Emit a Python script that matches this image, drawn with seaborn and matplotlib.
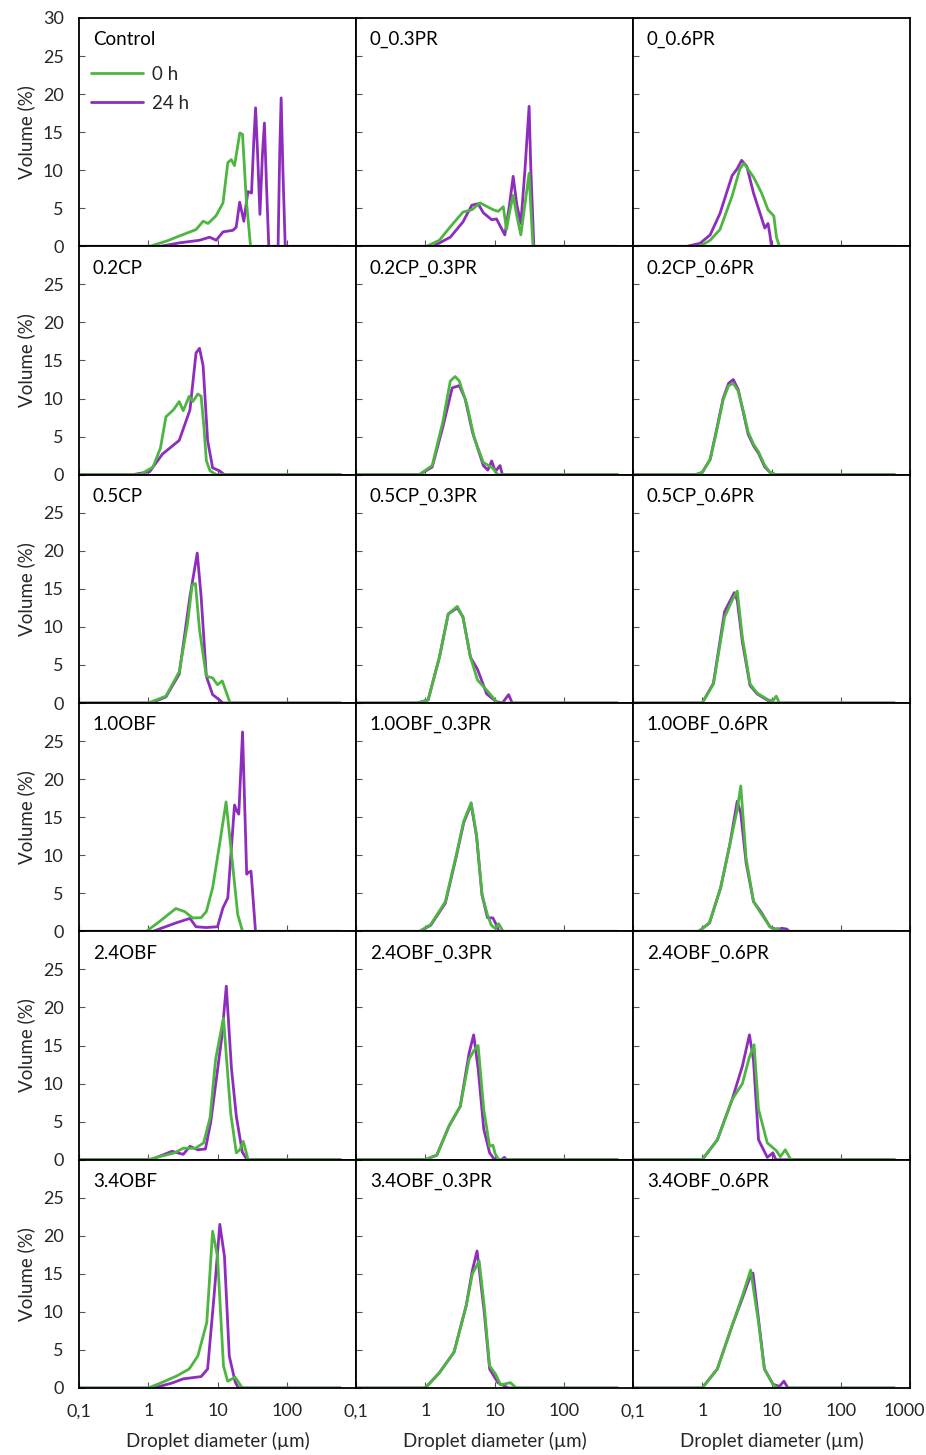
import matplotlib
matplotlib.use("Agg")
import matplotlib.pyplot as plt
import seaborn as sns
from matplotlib.ticker import FixedLocator, NullLocator, FixedFormatter
from matplotlib.transforms import ScaledTranslation

sns.set_theme(style="white")
plt.rcParams['font.family'] = ['Lato', 'DejaVu Sans']

GREEN = '#4DB640'
PURPLE = '#8E2CBE'

# ---------------- data (diameter in um, volume in %) ----------------
control_x0 = [0.1, 1.05, 1.85, 2.8, 4.9, 6.2, 7.3, 9.5, 12, 14.1, 15.8, 17.6, 21, 23, 26, 30, 600]
control_y0 = [0, 0, 0.7, 1.35, 2.2, 3.3, 3.0, 4.0, 5.7, 11, 11.4, 10.6, 14.9, 14.7, 6.2, 0, 0]
control_x24 = [0.1, 1.5, 2.8, 5.5, 7.7, 9.6, 12, 16.6, 18.6, 20.9, 24, 27.5, 31, 33.5, 35.5, 38, 41, 44.5, 47.6, 51, 55, 75, 79, 83, 88, 95, 600]
control_y24 = [0, 0, 0.45, 0.8, 1.2, 0.8, 1.9, 2.1, 2.5, 5.8, 3.3, 7.2, 7.0, 14, 18.2, 12, 4.2, 12, 16.2, 8, 0, 0, 12, 19.5, 10, 0, 0]

pr03_x0 = [0.1, 1.05, 1.6, 2.27, 3.5, 4.7, 6.2, 9.6, 11.3, 13.4, 14.9, 16.5, 18.6, 21, 24, 27.5, 31.6, 33.5, 36, 600]
pr03_y0 = [0, 0, 0.8, 2.5, 4.5, 4.8, 5.7, 4.8, 4.6, 5.2, 2.2, 4.5, 6.7, 4, 1.5, 5.5, 9.6, 5, 0, 0]
pr03_x24 = [0.1, 1.3, 2.3, 3.5, 4.7, 5.8, 6.9, 9.1, 10.7, 14.1, 16.5, 18.6, 21, 24, 27.5, 31.6, 33.5, 37, 600]
pr03_y24 = [0, 0, 1.2, 3.2, 5.4, 5.6, 4.4, 3.5, 3.6, 1.5, 5.5, 9.2, 5.5, 3.0, 10, 18.4, 10, 0, 0]

pr06_x0 = [0.1, 0.93, 1.3, 1.8, 2.7, 3.5, 4.0, 5.5, 7.2, 8.9, 10.8, 11.8, 13, 600]
pr06_y0 = [0, 0, 0.8, 2.2, 6.6, 10.2, 10.9, 9.1, 7.0, 4.8, 4.0, 1.2, 0, 0]
pr06_x24 = [0.1, 0.6, 0.93, 1.3, 1.8, 2.7, 3.2, 3.7, 4.4, 5.5, 6.8, 8.0, 8.9, 9.5, 10, 600]
pr06_y24 = [0, 0, 0.4, 1.5, 4.3, 9.3, 10.2, 11.3, 10.5, 7.0, 4.4, 2.4, 3.0, 1.5, 0, 0]

cp02_x0 = [0.1, 0.76, 1.17, 1.5, 1.8, 2.3, 2.8, 3.2, 3.9, 4.4, 5.2, 5.8, 6.4, 6.9, 7.8, 9.6, 600]
cp02_y0 = [0, 0, 1.0, 3.5, 7.6, 8.5, 9.6, 8.4, 10.3, 9.6, 10.6, 10.3, 6, 1.85, 0.5, 0, 0]
cp02_x24 = [0.1, 0.6, 1.05, 1.6, 2.8, 4.0, 4.9, 5.5, 6.2, 7.2, 8.5, 10.7, 12.6, 600]
cp02_y24 = [0, 0, 0.4, 2.7, 4.5, 8.5, 16, 16.6, 14.3, 4.5, 0.9, 0.5, 0, 0]

cp02pr03_x0 = [0.1, 0.82, 1.26, 1.8, 2.3, 2.7, 3.1, 4.0, 5.1, 6.9, 9.3, 11.2, 600]
cp02pr03_y0 = [0, 0, 1.2, 7.0, 12.3, 12.9, 12.3, 9.2, 4.8, 1.6, 0.9, 0, 0]
cp02pr03_x24 = [0.1, 0.82, 1.26, 1.8, 2.45, 3.1, 3.76, 4.8, 5.76, 6.9, 8.0, 9.1, 10.3, 12, 13, 600]
cp02pr03_y24 = [0, 0, 1.0, 6.3, 11.4, 11.7, 10, 5.6, 3.4, 1.2, 0.6, 1.8, 0.4, 1.2, 0, 0]

cp02pr06_x0 = [0.1, 0.8, 1.0, 1.3, 1.6, 2.0, 2.4, 2.8, 3.3, 4.0, 4.6, 5.5, 6.5, 8, 9.5, 11.5, 600]
cp02pr06_y0 = [0, 0, 0.3, 2.0, 5.6, 9.8, 11.7, 12.0, 11, 8, 5.6, 4.0, 3.0, 1.2, 0.3, 0, 0]
cp02pr06_x24 = [0.1, 0.8, 1.0, 1.3, 1.6, 2.0, 2.4, 2.8, 3.3, 4.0, 4.6, 5.5, 6.5, 8, 9.5, 11.5, 600]
cp02pr06_y24 = [0, 0, 0.3, 2.0, 5.8, 10, 12, 12.5, 11.2, 7.8, 5.3, 3.8, 2.8, 1.0, 0.3, 0, 0]

cp05_x0 = [0.1, 1.0, 1.8, 2.8, 3.7, 4.3, 4.8, 5.5, 6.9, 8.5, 10, 11.7, 13.3, 15.2, 600]
cp05_y0 = [0, 0, 0.9, 4.1, 10.5, 15.5, 15.7, 9.6, 3.5, 3.3, 2.4, 2.9, 1.5, 0, 0]
cp05_x24 = [0.1, 1.1, 1.8, 2.8, 4.0, 5.1, 5.8, 6.9, 8.5, 10.7, 12, 600]
cp05_y24 = [0, 0, 0.8, 3.8, 14, 19.7, 14, 3.5, 1.1, 0.4, 0, 0]

cp05pr03_x0 = [0.1, 0.77, 1.1, 1.6, 2.15, 2.9, 3.5, 4.5, 5.7, 7.7, 11.1, 600]
cp05pr03_y0 = [0, 0, 0.4, 6.0, 11.7, 12.7, 11.3, 6.0, 3.0, 1.7, 0, 0]
cp05pr03_x24 = [0.1, 0.77, 1.1, 1.6, 2.15, 2.9, 3.5, 4.5, 5.7, 7.7, 10.5, 13, 16, 18, 600]
cp05pr03_y24 = [0, 0, 0.4, 6.0, 11.7, 12.5, 11.3, 6.0, 4.4, 1.2, 0.2, 0, 1.1, 0, 0]

cp05pr06_x0 = [0.1, 1.0, 1.45, 2.1, 2.8, 3.2, 3.8, 4.9, 6.2, 9, 10.5, 11.7, 13, 600]
cp05pr06_y0 = [0, 0, 2.5, 11.3, 13.8, 14.7, 8.6, 2.5, 1.3, 0.4, 0.3, 0.9, 0, 0]
cp05pr06_x24 = [0.1, 1.0, 1.45, 2.1, 2.9, 3.2, 3.8, 4.9, 6.2, 9, 10, 600]
cp05pr06_y24 = [0, 0, 2.6, 12, 14.5, 13.5, 8, 2.3, 1.2, 0.3, 0, 0]

obf10_x0 = [0.1, 0.94, 1.46, 2.5, 3.35, 4.4, 5.8, 6.9, 8.5, 10.7, 13.3, 15.8, 19.6, 23, 600]
obf10_y0 = [0, 0, 1.3, 3.0, 2.6, 1.75, 1.8, 2.6, 5.7, 11.4, 17, 10.5, 2.2, 0, 0]
obf10_x24 = [0.1, 1.17, 2.5, 4.0, 4.9, 6.9, 10, 12, 14.1, 16, 17.6, 19, 20.3, 23, 26.4, 28.5, 30.5, 35.4, 600]
obf10_y24 = [0, 0, 1.1, 1.7, 0.6, 0.5, 0.6, 3.1, 4.4, 11.4, 16.6, 15.8, 15.4, 26.2, 7.5, 7.8, 7.9, 0, 0]

obf10pr03_x0 = [0.1, 0.83, 1.2, 1.95, 2.8, 3.6, 4.6, 5.5, 6.6, 7.9, 9.0, 10.2, 11.5, 13.3, 600]
obf10pr03_y0 = [0, 0, 0.9, 3.9, 10, 14.5, 16.9, 12.7, 4.8, 2.2, 0.8, 0.4, 1.0, 0, 0]
obf10pr03_x24 = [0.1, 0.83, 1.2, 1.95, 2.8, 3.6, 4.6, 5.5, 6.6, 7.9, 9.5, 10.7, 11.5, 600]
obf10pr03_y24 = [0, 0, 0.8, 3.7, 9.8, 14.3, 16.7, 12.5, 4.8, 1.8, 1.75, 0.8, 0, 0]

obf10pr06_x0 = [0.1, 0.89, 1.27, 1.84, 2.5, 3.2, 3.6, 4.3, 5.5, 7.0, 9.5, 11, 12.2, 13.5, 600]
obf10pr06_y0 = [0, 0, 1.1, 5.7, 11.4, 16, 19.1, 9.6, 3.9, 2.4, 0.6, 0.2, 0.4, 0, 0]
obf10pr06_x24 = [0.1, 0.89, 1.27, 1.84, 2.5, 3.2, 3.6, 4.3, 5.5, 7.0, 9.5, 12, 14, 16.6, 18, 600]
obf10pr06_y24 = [0, 0, 1.1, 5.7, 11.4, 17.1, 15.5, 9.0, 3.9, 2.6, 0.6, 0.2, 0.4, 0.3, 0, 0]

obf24_x0 = [0.1, 1.0, 1.47, 2.4, 3.2, 4.8, 6.3, 7.8, 9.4, 12.2, 15.5, 18.7, 21, 23.6, 27.6, 600]
obf24_y0 = [0, 0, 0.4, 0.9, 1.5, 1.5, 2.2, 5.5, 13.2, 18.6, 6.1, 0.9, 1.3, 2.4, 0, 0]
obf24_x24 = [0.1, 1.1, 2.2, 3.2, 4.0, 5.2, 6.7, 8.0, 11.5, 13.4, 15.9, 18.7, 22.8, 26.7, 600]
obf24_y24 = [0, 0, 1.1, 0.7, 1.75, 1.3, 1.4, 5.0, 16, 22.8, 12, 5.7, 1, 0, 0]

obf24pr03_x0 = [0.1, 1.0, 1.47, 2.2, 3.2, 4.3, 5.0, 5.8, 7.0, 8.5, 9.5, 10.2, 11.5, 600]
obf24pr03_y0 = [0, 0, 0.6, 4.4, 7.0, 13.2, 14.3, 15.0, 6.6, 1.75, 1.9, 0.8, 0, 0]
obf24pr03_x24 = [0.1, 1.0, 1.47, 2.2, 3.2, 4.3, 5.0, 5.8, 7.0, 8.5, 10.0, 12.5, 13.9, 15, 600]
obf24pr03_y24 = [0, 0, 0.6, 4.4, 7.0, 14, 16.4, 12, 4, 0.9, 0, 0, 0.3, 0, 0]

obf24pr06_x0 = [0.1, 1.0, 1.65, 2.7, 3.8, 4.8, 5.6, 6.5, 8.7, 11.7, 13.4, 15.8, 19, 600]
obf24pr06_y0 = [0, 0, 2.6, 7.9, 10, 13.5, 15.1, 6.6, 2.2, 1.2, 0.4, 1.3, 0, 0]
obf24pr06_x24 = [0.1, 1.0, 1.65, 2.7, 3.8, 4.8, 5.5, 6.5, 8.7, 10.5, 11.5, 600]
obf24pr06_y24 = [0, 0, 2.6, 7.9, 12.3, 16.4, 13, 2.6, 0.3, 0.9, 0, 0]

obf34_x0 = [0.1, 1.0, 1.6, 2.6, 3.9, 5.2, 7.0, 8.5, 10, 12.2, 14, 18, 22.8, 600]
obf34_y0 = [0, 0, 0.75, 1.6, 2.5, 4.2, 8.6, 20.6, 17.3, 2.9, 0.9, 1.4, 0, 0]
obf34_x24 = [0.1, 1.2, 2.2, 3.2, 5.8, 7.2, 8.9, 10.8, 12.6, 14.8, 18, 20, 600]
obf34_y24 = [0, 0, 0.65, 1.2, 1.5, 2.5, 12, 21.5, 17.3, 4.2, 0.8, 0, 0]

obf34pr03_x0 = [0.1, 1.0, 1.6, 2.6, 3.9, 4.8, 6.0, 7.1, 8.5, 10.4, 12.2, 17, 20.6, 600]
obf34pr03_y0 = [0, 0, 2, 4.7, 10.8, 15, 16.7, 10.8, 2.9, 1.8, 0.4, 0.7, 0, 0]
obf34pr03_x24 = [0.1, 1.0, 1.6, 2.6, 3.9, 4.8, 5.6, 7.1, 8.5, 11.2, 13.6, 15.8, 600]
obf34pr03_y24 = [0, 0, 2, 4.7, 10.8, 15.5, 18, 10, 2.5, 0.7, 0.3, 0, 0]

obf34pr06_x0 = [0.1, 1.0, 1.65, 2.7, 3.8, 5.0, 6.5, 7.9, 10.5, 12, 600]
obf34pr06_y0 = [0, 0, 2.5, 8.2, 12.1, 15.5, 8.6, 2.5, 0.5, 0, 0]
obf34pr06_x24 = [0.1, 1.0, 1.65, 2.7, 3.8, 5.0, 5.4, 6.5, 7.9, 10.5, 13, 15.1, 17.3, 600]
obf34pr06_y24 = [0, 0, 2.5, 8.2, 11.8, 14.8, 15.1, 9.0, 2.5, 0.5, 0.2, 0.9, 0, 0]

titles = ["Control", "0_0.3PR", "0_0.6PR",
          "0.2CP", "0.2CP_0.3PR", "0.2CP_0.6PR",
          "0.5CP", "0.5CP_0.3PR", "0.5CP_0.6PR",
          "1.0OBF", "1.0OBF_0.3PR", "1.0OBF_0.6PR",
          "2.4OBF", "2.4OBF_0.3PR", "2.4OBF_0.6PR",
          "3.4OBF", "3.4OBF_0.3PR", "3.4OBF_0.6PR"]

series = [
    (control_x0, control_y0, control_x24, control_y24),
    (pr03_x0, pr03_y0, pr03_x24, pr03_y24),
    (pr06_x0, pr06_y0, pr06_x24, pr06_y24),
    (cp02_x0, cp02_y0, cp02_x24, cp02_y24),
    (cp02pr03_x0, cp02pr03_y0, cp02pr03_x24, cp02pr03_y24),
    (cp02pr06_x0, cp02pr06_y0, cp02pr06_x24, cp02pr06_y24),
    (cp05_x0, cp05_y0, cp05_x24, cp05_y24),
    (cp05pr03_x0, cp05pr03_y0, cp05pr03_x24, cp05pr03_y24),
    (cp05pr06_x0, cp05pr06_y0, cp05pr06_x24, cp05pr06_y24),
    (obf10_x0, obf10_y0, obf10_x24, obf10_y24),
    (obf10pr03_x0, obf10pr03_y0, obf10pr03_x24, obf10pr03_y24),
    (obf10pr06_x0, obf10pr06_y0, obf10pr06_x24, obf10pr06_y24),
    (obf24_x0, obf24_y0, obf24_x24, obf24_y24),
    (obf24pr03_x0, obf24pr03_y0, obf24pr03_x24, obf24pr03_y24),
    (obf24pr06_x0, obf24pr06_y0, obf24pr06_x24, obf24pr06_y24),
    (obf34_x0, obf34_y0, obf34_x24, obf34_y24),
    (obf34pr03_x0, obf34pr03_y0, obf34pr03_x24, obf34pr03_y24),
    (obf34pr06_x0, obf34pr06_y0, obf34pr06_x24, obf34pr06_y24),
]

x_ticks = [0.1, 1, 10, 100, 1000]
x_ticklabels = ["0,1", "1", "10", "100", "1000"]
y_ticks = [0, 5, 10, 15, 20, 25, 30]
legend_labels = ["0 h", "24 h"]

# ---------------- figure ----------------
fig, axes = plt.subplots(6, 3, figsize=(9.26, 14.55), dpi=100)
fig.subplots_adjust(left=79/926, right=910/926, top=1-18/1455, bottom=1-1388/1455,
                    wspace=0, hspace=0)

FS = 13.5
TFS = 13
for i, ax in enumerate(axes.flat):
    r, c = divmod(i, 3)
    x0, y0, x24, y24 = series[i]
    sns.lineplot(x=x24, y=y24, ax=ax, color=PURPLE, lw=2.0, sort=False, label=legend_labels[1])
    sns.lineplot(x=x0, y=y0, ax=ax, color=GREEN, lw=2.0, sort=False, label=legend_labels[0])
    ax.set_xscale('log')
    ax.set_xlim(0.1, 1000)
    ax.set_ylim(0, 30)
    ax.xaxis.set_major_locator(FixedLocator(x_ticks))
    ax.xaxis.set_minor_locator(NullLocator())
    ax.yaxis.set_major_locator(FixedLocator(y_ticks))
    ax.tick_params(axis='both', direction='in', length=4, width=0.8, color='#555555',
                   labelsize=TFS, pad=11, bottom=True, left=True)
    for sp in ax.spines.values():
        sp.set_color('black')
        sp.set_linewidth(1.3)
    ax.set_xlabel('')
    ax.set_ylabel('')
    if c == 0:
        labs = [str(v) for v in y_ticks]
        if r > 0:
            labs[-1] = ''
        ax.yaxis.set_major_formatter(FixedFormatter(labs))
        ax.set_ylabel("Volume (%)", fontsize=FS)
        ax.yaxis.set_label_coords(-0.16, 0.5)
    else:
        ax.set_yticklabels([])
    if r == 5:
        labs = list(x_ticklabels)
        if c < 2:
            labs[-1] = ''
        ax.xaxis.set_major_formatter(FixedFormatter(labs))
        ax.set_xlabel("Droplet diameter (\u00b5m)", fontsize=FS, labelpad=9)
        if c == 2:
            last = ax.xaxis.get_major_ticks()[-1].label1
            last.set_transform(last.get_transform() +
                               ScaledTranslation(-4/72, 0, fig.dpi_scale_trans))
    else:
        ax.set_xticklabels([])
    ax.text(0.05, 0.905, titles[i], transform=ax.transAxes, fontsize=FS,
            ha='left', va='center', color='black')
    leg = ax.get_legend()
    if leg is not None:
        leg.remove()
    if i == 0:
        handles, labels = ax.get_legend_handles_labels()
        order = [labels.index(legend_labels[0]), labels.index(legend_labels[1])]
        ax.legend([handles[k] for k in order], [labels[k] for k in order],
                  loc='upper left', bbox_to_anchor=(0.035, 0.80), frameon=False,
                  fontsize=FS, handlelength=2.8, handletextpad=0.5, labelspacing=0.65,
                  borderpad=0.1, borderaxespad=0)

fig.savefig("out.png", dpi=100)
